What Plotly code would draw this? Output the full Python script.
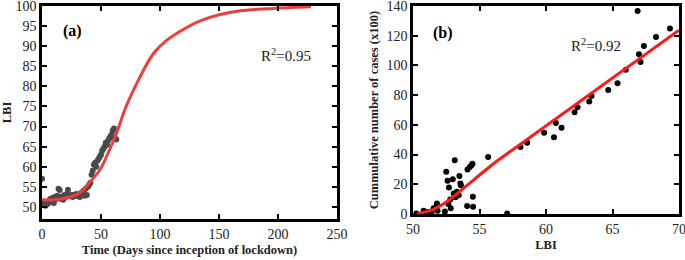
import plotly.graph_objects as go

# ---- Panel (a): LBI vs time ----
days = list(range(0, 64))
lbi_obs = [57.0, 51.0, 50.5, 50.3, 51.2, 50.8, 51.5, 52.0, 51.2, 52.3,
           51.0, 52.5, 52.0, 52.8, 54.5, 54.2, 52.0, 52.6, 51.8, 53.0,
           52.5, 53.2, 54.3, 53.0, 52.8, 53.0, 52.5, 53.0, 52.7, 53.2,
           52.8, 53.0, 52.5, 53.5, 53.0, 54.0, 52.8, 54.5, 53.0, 55.0,
           55.5, 56.0, 58.0, 59.0, 60.5, 61.0, 60.0, 61.5, 62.0, 62.5,
           63.0, 64.0, 64.5, 65.0, 66.0, 65.5, 66.5, 67.0, 67.5, 68.0,
           69.0, 69.5, 67.0, 66.8]
fit_days = [0, 15, 32, 40, 49, 57, 63, 71, 83, 94, 105, 120, 134, 151, 168, 190, 210, 228]
fit_lbi = [51.8, 51.9, 53.5, 56.0, 59.2, 64.1, 68.2, 74.8, 82.3, 88.0, 91.3, 94.2, 96.3, 97.9, 98.8, 99.3, 99.6, 99.8]

# ---- Panel (b): cases vs LBI ----
lbi_b = [50.25, 50.8, 51.0, 51.2, 51.4, 51.55, 51.7, 51.8, 51.85, 52.4,
         52.5, 52.6, 52.7, 52.66, 52.8, 52.84, 52.99, 53.06, 53.14, 53.19,
         53.3, 53.44, 53.49, 53.56, 53.6, 54.07, 54.1, 54.27, 54.4, 54.47,
         54.5, 54.52, 55.65, 57.08, 58.08, 58.58, 59.86, 60.6, 60.74, 61.17,
         62.15, 62.37, 63.25, 63.42, 64.68, 65.38, 66.0, 66.89, 66.99, 67.11,
         67.36, 68.27, 69.32]
cases_b = [0.4, 2.2, 1.3, 1.1, 1.3, 3.8, 4.5, 7.1, 2.2, 1.6,
           28.4, 22.3, 17.9, 6.7, 9.8, 3.8, 23.4, 13.8, 36.2, 11.2,
           15.0, 12.7, 25.5, 20.5, 19.4, 5.4, 29.9, 31.7, 32.8, 33.9,
           11.6, 4.9, 38.4, 0.4, 45.1, 48.0, 54.7, 51.6, 61.2, 58.0,
           68.5, 71.9, 75.7, 79.5, 83.5, 88.0, 97.1, 136.6, 107.6, 102.3,
           113.0, 119.2, 124.8]
fit_lbi_b = [50.3, 51.5, 52.5, 53.5, 54.5, 56.0, 58.0, 70.0]
fit_cases_b = [0.0, 3.0, 8.0, 15.0, 22.5, 33.5, 46.5, 123.7]

W, H = 685, 260
serif = "Liberation Serif, Times New Roman, serif"

fig = go.Figure()
fig.add_trace(go.Scatter(x=days, y=lbi_obs, mode="markers",
                         marker=dict(color="#4a4a4a", size=6), xaxis="x", yaxis="y",
                         showlegend=False))
fig.add_trace(go.Scatter(x=fit_days, y=fit_lbi, mode="lines", line=dict(color="#f03c3c", width=3, shape="spline"),
                         xaxis="x", yaxis="y", showlegend=False))
fig.add_trace(go.Scatter(x=lbi_b, y=cases_b, mode="markers",
                         marker=dict(color="black", size=6), xaxis="x2", yaxis="y2",
                         showlegend=False))
fig.add_trace(go.Scatter(x=fit_lbi_b, y=fit_cases_b, mode="lines", line=dict(color="#ff1a1a", width=3, shape="spline", smoothing=0.5),
                         xaxis="x2", yaxis="y2", showlegend=False))

axis_common = dict(showline=True, linecolor="black", linewidth=2.5, mirror="ticks",
                   ticks="inside", ticklen=5, tickwidth=2, tickcolor="black",
                   showgrid=False, zeroline=False, automargin=False,
                   ticklabeloverflow="allow",
                   tickfont=dict(family=serif, size=14, color="#222"))
title_font = dict(family=serif, size=12.5, color="#222")

fig.update_layout(
    width=W, height=H, margin=dict(l=0, r=0, t=0, b=0),
    paper_bgcolor="white", plot_bgcolor="white",
    xaxis=dict(domain=[42/W, 337/W], range=[0, 250], tickvals=[0, 50, 100, 150, 200, 250],
               title=dict(text="<b>Time (Days since inception of lockdown)</b>", font=title_font, standoff=5),
               anchor="y", **axis_common),
    yaxis=dict(domain=[1-219/H, 1-6/H], range=[47, 100], tickvals=[50, 55, 60, 65, 70, 75, 80, 85, 90, 95, 100],
               title=dict(text="<b>LBI</b>", font=title_font, standoff=6),
               anchor="x", **axis_common),
    xaxis2=dict(domain=[413/W, 679/W], range=[50, 70], tickvals=[50, 55, 60, 65, 70],
                title=dict(text="<b>LBI</b>", font=title_font, standoff=5),
                anchor="y2", **axis_common),
    yaxis2=dict(domain=[1-214/H, 1-6/H], range=[0, 140], tickvals=[0, 20, 40, 60, 80, 100, 120, 140],
                title=dict(text="<b>Cummulative number of cases (x100)</b>", font=title_font, standoff=6),
                anchor="x2", **axis_common),
    annotations=[
        dict(text="<b>(a)</b>", x=61/W, y=1-20/H, xref="paper", yref="paper", showarrow=False,
             font=dict(family=serif, size=16, color="black")),
        dict(text="R<sup>2</sup>=0.95", x=286/W, y=1-44/H, xref="paper", yref="paper", showarrow=False,
             font=dict(family=serif, size=15, color="#222")),
        dict(text="<b>(b)</b>", x=443/W, y=1-22/H, xref="paper", yref="paper", showarrow=False,
             font=dict(family=serif, size=16, color="black")),
        dict(text="R<sup>2</sup>=0.92", x=623/W, y=1-34/H, xref="paper", yref="paper", showarrow=False,
             font=dict(family=serif, size=15, color="#222")),
    ],
)

fig.write_html("out.html", config={"displayModeBar": False},
               post_script="document.body.style.margin='0';document.body.style.overflow='hidden';")
